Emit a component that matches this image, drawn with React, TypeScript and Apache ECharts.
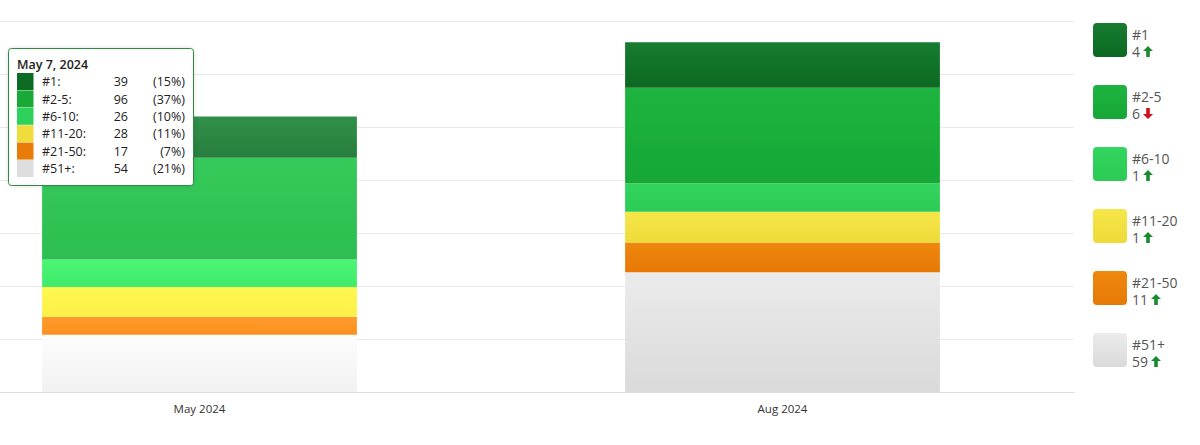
import React, { useEffect, useRef } from "react";
import * as echarts from "echarts";

const categories = ["May 2024", "Aug 2024"];
const rankGroups = ["#1", "#2-5", "#6-10", "#11-20", "#21-50", "#51+"];
const mayValues = [39, 96, 26, 28, 17, 54];
const augValues = [43, 90, 27, 29, 28, 113];
const tooltipDate = "May 7, 2024";
const yTicks = [0, 50, 100, 150, 200, 250, 300, 350];

const normalColors = [
  ["#177c30", "#0c6822"],
  ["#1eb43f", "#16a736"],
  ["#33d55e", "#2bcb55"],
  ["#f6e649", "#eedb39"],
  ["#ef880f", "#e67905"],
  ["#ebebeb", "#dadada"],
];
const highlightColors = [
  ["#30904a", "#277e3c"],
  ["#36ca5b", "#2dbd50"],
  ["#4bf675", "#40ea6a"],
  ["#fff853", "#fdef47"],
  ["#ff9c2c", "#fb8f1f"],
  ["#fdfdfd", "#f1f1f2"],
];
const swatchColors = ["#0e6b24", "#18a937", "#2ed159", "#f0dd3b", "#e97c09", "#dedede"];

const grad = (c: string[]) =>
  new echarts.graphic.LinearGradient(0, 0, 0, 1, [
    { offset: 0, color: c[0] },
    { offset: 1, color: c[1] },
  ]);

export default function App() {
  const ref = useRef<HTMLDivElement>(null);
  useEffect(() => {
    document.body.style.margin = "0";
    const chart = echarts.init(ref.current!, null, { renderer: "svg" });
    const font = "'Open Sans', 'Noto Sans', sans-serif";

    // series bottom-to-top
    const order = [5, 4, 3, 2, 1, 0];
    const series = order.map((i) => ({
      name: rankGroups[i],
      type: "bar",
      stack: "total",
      barWidth: "54%",
      data: [
        { value: mayValues[i], itemStyle: { color: grad(highlightColors[i]) } },
        { value: augValues[i], itemStyle: { color: grad(normalColors[i]) } },
      ],
    }));

    const mayTotal = mayValues.reduce((a, b) => a + b, 0);
    const Z = 100;

    const tooltipChildren: any[] = [
      {
        type: "rect",
        z: Z,
        shape: { x: 8.5, y: 48.5, width: 185, height: 137, r: 3 },
        style: {
          fill: "#ffffff",
          stroke: "#2d8c40",
          lineWidth: 1,
          shadowBlur: 4,
          shadowColor: "rgba(0,0,0,0.12)",
        },
      },
      {
        type: "text",
        z: Z + 1,
        x: 17,
        y: 64,
        style: {
          text: tooltipDate,
          font: `600 12.5px ${font}`,
          fill: "#222",
          verticalAlign: "middle",
        },
      },
    ];
    rankGroups.forEach((g, i) => {
      const y = 73 + i * 17.4;
      const pct = Math.round((mayValues[i] / mayTotal) * 100);
      tooltipChildren.push(
        {
          type: "rect",
          z: Z + 1,
          shape: { x: 17, y, width: 16.5, height: 17 },
          style: { fill: swatchColors[i] },
        },
        {
          type: "text",
          z: Z + 1,
          x: 42,
          y: y + 8.7,
          style: { text: g + ":", font: `12.5px ${font}`, fill: "#222", verticalAlign: "middle" },
        },
        {
          type: "text",
          z: Z + 1,
          x: 128,
          y: y + 8.7,
          style: {
            text: String(mayValues[i]),
            font: `12.5px ${font}`,
            fill: "#222",
            align: "right",
            verticalAlign: "middle",
          },
        },
        {
          type: "text",
          z: Z + 1,
          x: 185,
          y: y + 8.7,
          style: {
            text: `(${pct}%)`,
            font: `12.5px ${font}`,
            fill: "#222",
            align: "right",
            verticalAlign: "middle",
          },
        }
      );
    });

    const legendChildren: any[] = [];
    rankGroups.forEach((g, i) => {
      const top = 23 + i * 62;
      const diff = augValues[i] - mayValues[i];
      const diffText = String(Math.abs(diff));
      const up = diff >= 0;
      const ax = 1132 + diffText.length * 8 + 3;
      const ay = top + 23;
      const pts = up
        ? [[0, 5], [5, 0], [10, 5], [6.8, 5], [6.8, 11], [3.2, 11], [3.2, 5]]
        : [[0, 6], [5, 11], [10, 6], [6.8, 6], [6.8, 0], [3.2, 0], [3.2, 6]];
      legendChildren.push(
        {
          type: "rect",
          shape: { x: 1093, y: top, width: 34, height: 34, r: 4 },
          style: { fill: grad(normalColors[i]) },
        },
        {
          type: "text",
          x: 1132,
          y: top + 11,
          style: { text: g, font: `14px ${font}`, fill: "#555", verticalAlign: "middle" },
        },
        {
          type: "text",
          x: 1132,
          y: top + 28,
          style: { text: diffText, font: `14px ${font}`, fill: "#555", verticalAlign: "middle" },
        },
        {
          type: "polygon",
          x: ax,
          y: ay,
          shape: { points: pts },
          style: { fill: up ? "#1a8a2e" : "#d0101a" },
        }
      );
    });

    chart.setOption({
      animation: false,
      backgroundColor: "#ffffff",
      grid: { left: -92, top: 21, width: 1166, height: 371, outerBoundsMode: "none", containLabel: false },
      xAxis: {
        type: "category",
        data: categories,
        axisLine: { lineStyle: { color: "#dcdcdc", width: 1 } },
        axisTick: { show: false },
        axisLabel: { color: "#333", fontSize: 11.5, fontFamily: font, margin: 10 },
      },
      yAxis: {
        type: "value",
        min: yTicks[0],
        max: yTicks[yTicks.length - 1],
        interval: yTicks[1] - yTicks[0],
        axisLine: { show: false },
        axisTick: { show: false },
        axisLabel: { show: false },
        splitLine: { lineStyle: { color: "#e9e9e9", width: 1 } },
      },
      series,
      graphic: [
        { type: "group", children: legendChildren },
        { type: "group", z: Z, children: tooltipChildren },
      ],
    });
    return () => chart.dispose();
  }, []);
  return <div ref={ref} style={{ width: 1200, height: 445 }} />;
}
